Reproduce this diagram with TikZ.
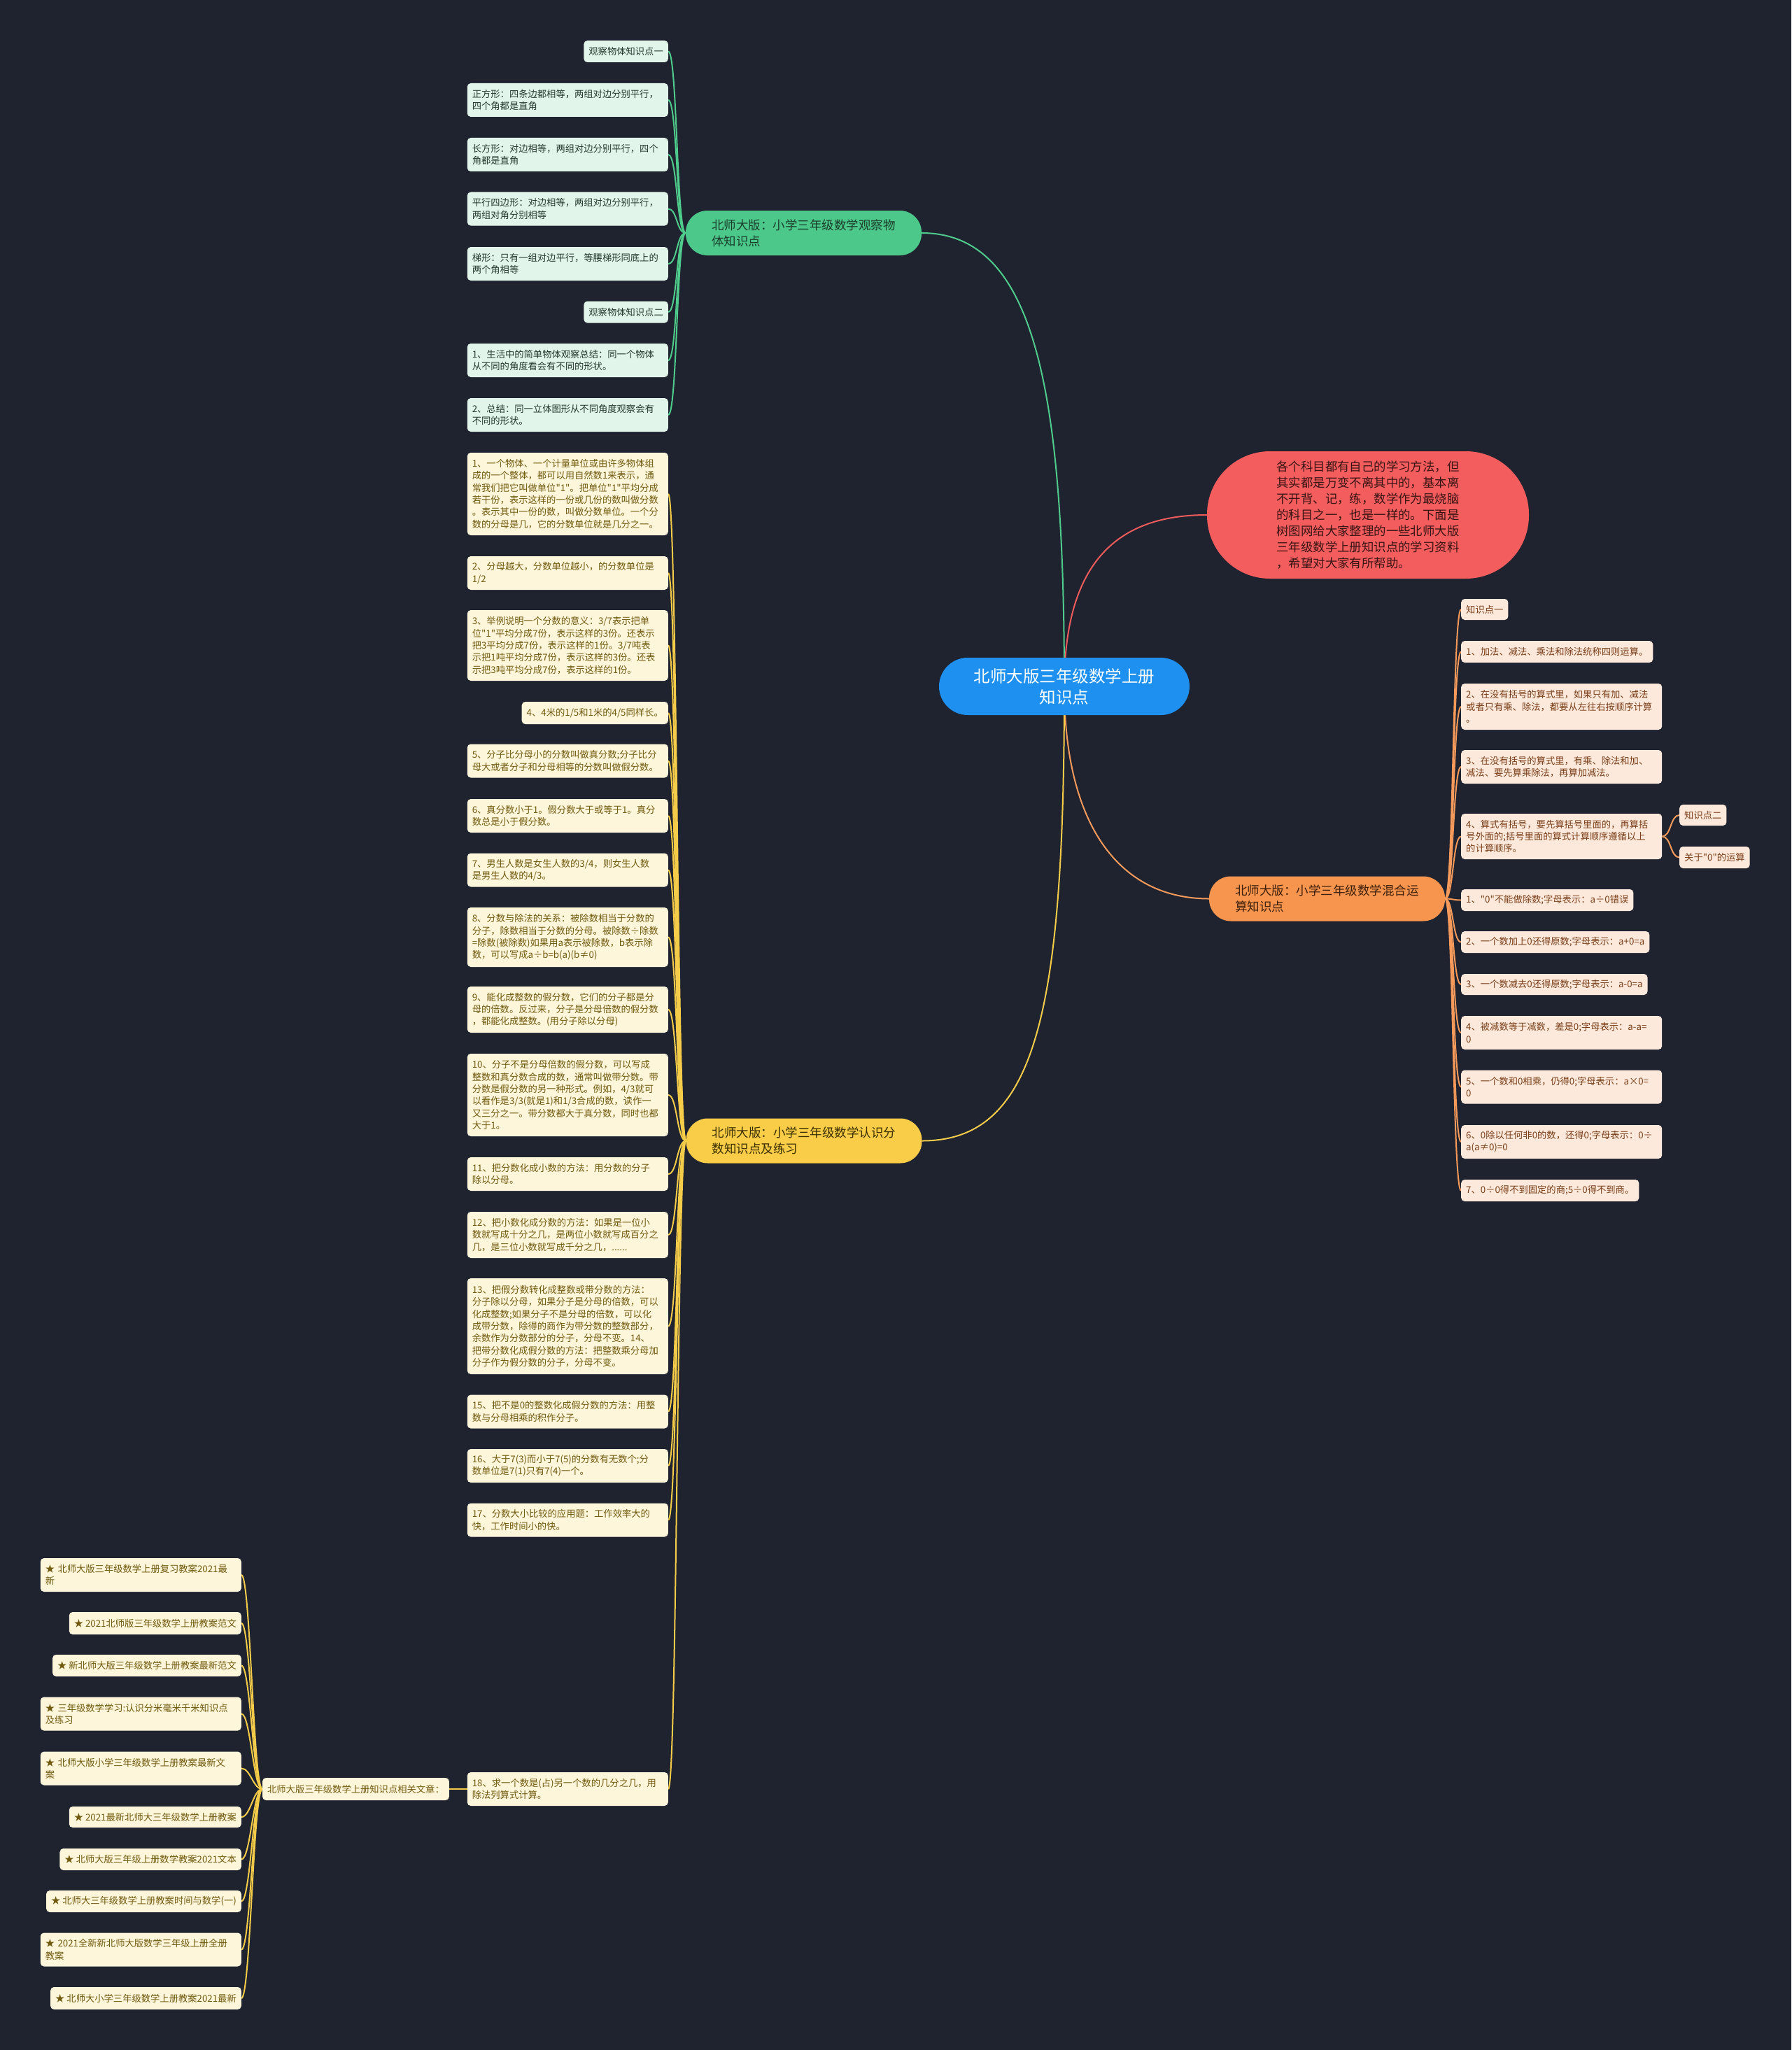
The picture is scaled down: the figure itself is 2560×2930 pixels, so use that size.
\documentclass[tikz,border=0pt]{standalone}
\usepackage{fontspec}
\setmainfont{Noto Sans CJK SC}[Ligatures=TeXOff]
\pgfdeclarelayer{background}
\pgfdeclarelayer{edges}
\pgfsetlayers{background,edges,main}
\definecolor{bgcol}{HTML}{1F2330}
\definecolor{gfill}{HTML}{4CC98A}
\definecolor{gtext}{HTML}{1A3D2B}
\definecolor{glfill}{HTML}{E2F5EA}
\definecolor{gltext}{HTML}{24392E}
\definecolor{gln}{HTML}{4FCB8C}
\definecolor{yfill}{HTML}{F9CD47}
\definecolor{ytext}{HTML}{3A2E00}
\definecolor{ylfill}{HTML}{FEF6DA}
\definecolor{yltext}{HTML}{705A0E}
\definecolor{yln}{HTML}{F5CC4A}
\definecolor{ofill}{HTML}{F7954F}
\definecolor{otext}{HTML}{3D1F0A}
\definecolor{olfill}{HTML}{FDE9DC}
\definecolor{oltext}{HTML}{7A3E18}
\definecolor{oln}{HTML}{F59A5A}
\definecolor{rfill}{HTML}{F45D5D}
\definecolor{rtext}{HTML}{3A1414}
\definecolor{rln}{HTML}{EE5B5B}
\definecolor{cfill}{HTML}{1E90F0}
\tikzset{
  leafbase/.style={rounded corners=5pt, inner xsep=7pt, inner ysep=0pt,
    font=\fontsize{13.3}{17.3}\selectfont, align=left},
  wide/.style={text width=273pt},
  hA/.style={minimum height=31pt},
  hB/.style={minimum height=48pt},
  hC/.style={minimum height=66pt},
  hD/.style={minimum height=85pt},
  hE/.style={minimum height=101pt},
  hF/.style={minimum height=118pt},
  hG/.style={minimum height=137pt},
  gleaf/.style={leafbase, fill=glfill, text=gltext, anchor=east},
  yleaf/.style={leafbase, fill=ylfill, text=yltext, anchor=east},
  oleaf/.style={leafbase, fill=olfill, text=oltext, anchor=west},
  mainbase/.style={rounded corners=31pt, minimum height=64pt, inner xsep=37pt,
    inner ysep=0pt, text width=263pt, align=left,
    font=\fontsize{17.5}{23}\selectfont},
  gline/.style={draw=gln, line width=2pt},
  yline/.style={draw=yln, line width=2pt},
  oline/.style={draw=oln, line width=2pt},
  rline/.style={draw=rln, line width=2pt},
}
\begin{document}
\begin{tikzpicture}[x=1pt,y=-1pt]
\useasboundingbox (0,0) rectangle (2560,2930);
\begin{pgfonlayer}{background}
\fill[bgcol] (0,0) rectangle (2560,2930);
\end{pgfonlayer}

% centre
\node[fill=cfill, text=white, rounded corners=41pt, minimum width=358pt,
  minimum height=82pt, align=center, font=\fontsize{23.5}{30}\selectfont]
  (ct) at (1521,981) {北师大版三年级数学上册\\知识点};

% red intro
\node[fill=rfill, text=rtext, rounded corners=90pt, minimum width=460pt,
  minimum height=182pt, text width=261pt, align=left, inner xsep=99pt,
  font=\fontsize{17.4}{23}\selectfont]
  (rd) at (1955,736) {各个科目都有自己的学习方法，但\\其实都是万变不离其中的，基本离\\不开背、记，练，数学作为最烧脑\\的科目之一，也是一样的。下面是\\树图网给大家整理的一些北师大版\\三年级数学上册知识点的学习资料\\，希望对大家有所帮助。};

% main branches
\node[mainbase, fill=gfill, text=gtext] (gm) at (1148.5,333) {北师大版：小学三年级数学观察物\\体知识点};
\node[mainbase, fill=yfill, text=ytext] (ym) at (1149,1630.5) {北师大版：小学三年级数学认识分\\数知识点及练习};
\node[mainbase, fill=ofill, text=otext] (om) at (1896.5,1284.5) {北师大版：小学三年级数学混合运\\算知识点};

% green leaves
\node[gleaf, hA] (g0) at (955,73.5) {观察物体知识点一};
\node[gleaf, wide, hB] (g1) at (955,143) {正方形：四条边都相等，两组对边分别平行，\\四个角都是直角};
\node[gleaf, wide, hB] (g2) at (955,221) {长方形：对边相等，两组对边分别平行，四个\\角都是直角};
\node[gleaf, wide, hB] (g3) at (955,298.5) {平行四边形：对边相等，两组对边分别平行，\\两组对角分别相等};
\node[gleaf, wide, hB] (g4) at (955,377) {梯形：只有一组对边平行，等腰梯形同底上的\\两个角相等};
\node[gleaf, hA] (g5) at (955,446) {观察物体知识点二};
\node[gleaf, wide, hB] (g6) at (955,515) {1、生活中的简单物体观察总结：同一个物体\\从不同的角度看会有不同的形状。};
\node[gleaf, wide, hB] (g7) at (955,593) {2、总结：同一立体图形从不同角度观察会有\\不同的形状。};

% yellow leaves
\node[yleaf, wide, hF] (y1) at (955,706) {1、一个物体、一个计量单位或由许多物体组\\成的一个整体，都可以用自然数1来表示，通\\常我们把它叫做单位"1"。把单位"1"平均分成\\若干份，表示这样的一份或几份的数叫做分数\\。表示其中一份的数，叫做分数单位。一个分\\数的分母是几，它的分数单位就是几分之一。};
\node[yleaf, wide, hB] (y2) at (955,819) {2、分母越大，分数单位越小，的分数单位是\\1/2};
\node[yleaf, wide, hE] (y3) at (955,922.5) {3、举例说明一个分数的意义：3/7表示把单\\位"1"平均分成7份，表示这样的3份。还表示\\把3平均分成7份，表示这样的1份。3/7吨表\\示把1吨平均分成7份，表示这样的3份。还表\\示把3吨平均分成7份，表示这样的1份。};
\node[yleaf, minimum height=32pt] (y4) at (955,1019) {4、4米的1/5和1米的4/5同样长。};
\node[yleaf, wide, hB] (y5) at (955,1087.5) {5、分子比分母小的分数叫做真分数;分子比分\\母大或者分子和分母相等的分数叫做假分数。};
\node[yleaf, wide, hB] (y6) at (955,1166) {6、真分数小于1。假分数大于或等于1。真分\\数总是小于假分数。};
\node[yleaf, wide, hB] (y7) at (955,1243.5) {7、男生人数是女生人数的3/4，则女生人数\\是男生人数的4/3。};
\node[yleaf, wide, hD] (y8) at (955,1339.5) {8、分数与除法的关系：被除数相当于分数的\\分子，除数相当于分数的分母。被除数÷除数\\=除数(被除数)如果用a表示被除数，b表示除\\数，可以写成a÷b=b(a)(b≠0)};
\node[yleaf, wide, hC] (y9) at (955,1443) {9、能化成整数的假分数，它们的分子都是分\\母的倍数。反过来，分子是分母倍数的假分数\\，都能化成整数。(用分子除以分母)};
\node[yleaf, wide, hF] (y10) at (955,1565) {10、分子不是分母倍数的假分数，可以写成\\整数和真分数合成的数，通常叫做带分数。带\\分数是假分数的另一种形式。例如，4/3就可\\以看作是3/3(就是1)和1/3合成的数，读作一\\又三分之一。带分数都大于真分数，同时也都\\大于1。};
\node[yleaf, wide, hB] (y11) at (955,1678) {11、把分数化成小数的方法：用分数的分子\\除以分母。};
\node[yleaf, wide, hC] (y12) at (955,1765) {12、把小数化成分数的方法：如果是一位小\\数就写成十分之几，是两位小数就写成百分之\\几，是三位小数就写成千分之几，......};
\node[yleaf, wide, hG] (y13) at (955,1895.5) {13、把假分数转化成整数或带分数的方法：\\分子除以分母，如果分子是分母的倍数，可以\\化成整数;如果分子不是分母的倍数，可以化\\成带分数，除得的商作为带分数的整数部分，\\余数作为分数部分的分子，分母不变。14、\\把带分数化成假分数的方法：把整数乘分母加\\分子作为假分数的分子，分母不变。};
\node[yleaf, wide, hB] (y15) at (955,2017.5) {15、把不是0的整数化成假分数的方法：用整\\数与分母相乘的积作分子。};
\node[yleaf, wide, hB] (y16) at (955,2095) {16、大于7(3)而小于7(5)的分数有无数个;分\\数单位是7(1)只有7(4)一个。};
\node[yleaf, wide, hB] (y17) at (955,2172.5) {17、分数大小比较的应用题：工作效率大的\\快，工作时间小的快。};
\node[yleaf, wide, hB] (y18) at (955,2557) {18、求一个数是(占)另一个数的几分之几，用\\除法列算式计算。};

% related articles
\node[yleaf, minimum height=32pt] (rel) at (642,2557) {北师大版三年级数学上册知识点相关文章：};
\node[yleaf, wide, hB] (s1) at (345,2251) {★ 北师大版三年级数学上册复习教案2021最\\新};
\node[yleaf, minimum height=32pt] (s2) at (345,2320) {★ 2021北师版三年级数学上册教案范文};
\node[yleaf, hA] (s3) at (345,2380.5) {★ 新北师大版三年级数学上册教案最新范文};
\node[yleaf, wide, hB] (s4) at (345,2449.5) {★ 三年级数学学习:认识分米毫米千米知识点\\及练习};
\node[yleaf, wide, hB] (s5) at (345,2527.5) {★ 北师大版小学三年级数学上册教案最新文\\案};
\node[yleaf, minimum height=30pt] (s6) at (345,2597) {★ 2021最新北师大三年级数学上册教案};
\node[yleaf, hA] (s7) at (345,2657.5) {★ 北师大版三年级上册数学教案2021文本};
\node[yleaf, hA] (s8) at (345,2717.5) {★ 北师大三年级数学上册教案时间与数学(一)};
\node[yleaf, wide, hB] (s9) at (345,2786.5) {★ 2021全新新北师大版数学三年级上册全册\\教案};
\node[yleaf, minimum height=32pt] (s10) at (345,2856) {★ 北师大小学三年级数学上册教案2021最新};

% orange leaves
\node[oleaf, minimum height=30pt] (o0) at (2088,871) {知识点一};
\node[oleaf, hA] (o1) at (2088,931.5) {1、加法、减法、乘法和除法统称四则运算。};
\node[oleaf, wide, hC] (o2) at (2088,1010) {2、在没有括号的算式里，如果只有加、减法\\或者只有乘、除法，都要从左往右按顺序计算\\。};
\node[oleaf, wide, hB] (o3) at (2088,1096) {3、在没有括号的算式里，有乘、除法和加、\\减法、要先算乘除法，再算加减法。};
\node[oleaf, wide, minimum height=65pt] (o4) at (2088,1195.5) {4、算式有括号，要先算括号里面的，再算括\\号外面的;括号里面的算式计算顺序遵循以上\\的计算顺序。};
\node[oleaf, minimum height=30pt] (k2) at (2400,1165) {知识点二};
\node[oleaf, hA] (k0) at (2400,1225.5) {关于"0"的运算};
\node[oleaf, hA] (z1) at (2088,1286.5) {1、"0"不能做除数;字母表示：a÷0错误};
\node[oleaf, hA] (z2) at (2088,1346.5) {2、一个数加上0还得原数;字母表示：a+0=a};
\node[oleaf, minimum height=30pt] (z3) at (2088,1407) {3、一个数减去0还得原数;字母表示：a-0=a};
\node[oleaf, wide, hB] (z4) at (2088,1476) {4、被减数等于减数，差是0;字母表示：a-a=\\0};
\node[oleaf, wide, hB] (z5) at (2088,1553.5) {5、一个数和0相乘，仍得0;字母表示：a×0=\\0};
\node[oleaf, wide, hB] (z6) at (2088,1632) {6、0除以任何非0的数，还得0;字母表示：0÷\\a(a≠0)=0};
\node[oleaf, hA] (z7) at (2088,1701.5) {7、0÷0得不到固定的商;5÷0得不到商。};

\begin{pgfonlayer}{edges}
% centre to main branches
\draw[gline] (ct.center) .. controls (1521,560) and (1480,333) .. (gm.east);
\draw[rline] (ct.center) .. controls (1521,800) and (1600,736) .. (rd.west);
\draw[oline] (ct.center) .. controls (1521,1180) and (1600,1284.5) .. (om.west);
\draw[yline] (ct.center) .. controls (1521,1450) and (1480,1630.5) .. (ym.east);
% green
\foreach \n in {g0,g1,g2,g3,g4,g5,g6,g7}
  \draw[gline] (gm.west) .. controls +(-13,0) and +(13,0) .. (\n.east);
% yellow
\foreach \n in {y1,y2,y3,y4,y5,y6,y7,y8,y9,y10,y11,y12,y13,y15,y16,y17,y18}
  \draw[yline] (ym.west) .. controls +(-13,0) and +(13,0) .. (\n.east);
\draw[yline] (y18.west) -- (rel.east);
\foreach \n in {s1,s2,s3,s4,s5,s6,s7,s8,s9,s10}
  \draw[yline] (rel.west) .. controls +(-13,0) and +(13,0) .. (\n.east);
% orange
\foreach \n in {o0,o1,o2,o3,o4,z1,z2,z3,z4,z5,z6,z7}
  \draw[oline] (om.east) .. controls +(12,0) and +(-12,0) .. (\n.west);
\foreach \n in {k2,k0}
  \draw[oline] (o4.east) .. controls +(13,0) and +(-13,0) .. (\n.west);
\end{pgfonlayer}
\end{tikzpicture}
\end{document}
